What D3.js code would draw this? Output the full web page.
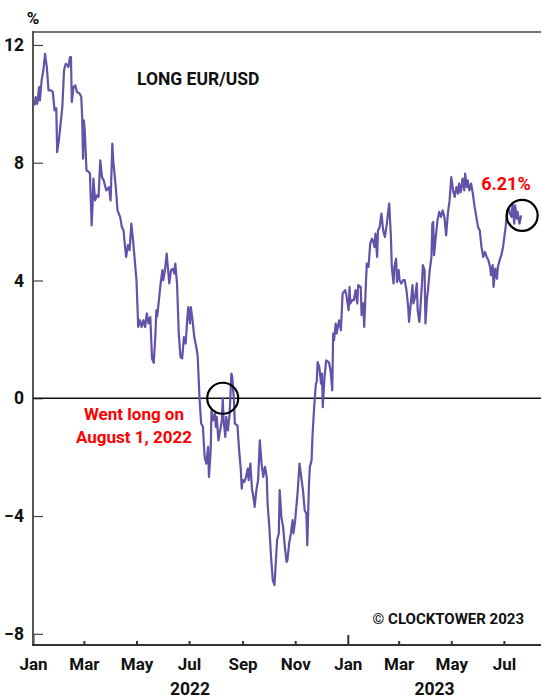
<!DOCTYPE html>
<html>
<head>
<meta charset="utf-8">
<script src="https://cdn.jsdelivr.net/npm/d3@7"></script>
<style>
  html, body { margin: 0; padding: 0; background: #fff; }
  svg { display: block; font-family: Roboto, "Noto Sans", sans-serif; font-weight: 700; }
</style>
</head>
<body>
<svg id="chart" width="542" height="698"></svg>
<script>
// Long EUR/USD position, % — 2022 observations (MM-DD) and values
const days2022 = ["01-03","01-04","01-06","01-08","01-09","01-10","01-11","01-13","01-15","01-17","01-19","01-22","01-24","01-26","01-28","01-29","01-31",
  "02-02","02-04","02-06","02-08","02-10","02-11","02-13","02-14","02-15","02-17","02-19","02-21","02-24","02-26","02-27","02-28",
  "03-01","03-02","03-04","03-07","03-08","03-10","03-11","03-12","03-14","03-16","03-18","03-20","03-22","03-24","03-26","03-27","03-30",
  "04-01","04-03","04-04","04-07","04-09","04-12","04-14","04-16","04-17","04-19","04-21","04-23","04-25","04-27","04-29",
  "05-01","05-03","05-05","05-07","05-09","05-11","05-13","05-15","05-17","05-19","05-21","05-23","05-24","05-25","05-27","05-29","05-31",
  "06-01","06-03","06-05","06-07","06-08","06-10","06-12","06-14","06-15","06-17","06-19","06-21","06-23","06-25","06-27","06-29","06-30",
  "07-02","07-03","07-05","07-07","07-10","07-11","07-12","07-13","07-15","07-17","07-19","07-21","07-23","07-24","07-26","07-27","07-29","07-31",
  "08-01","08-02","08-04","08-06","08-08","08-09","08-10","08-12","08-13","08-15","08-17","08-19","08-20","08-22","08-23","08-26","08-28","08-30","08-31",
  "09-01","09-03","09-05","09-07","09-08","09-10","09-12","09-13","09-15","09-17","09-19","09-21","09-23","09-25","09-27","09-29","09-30",
  "10-02","10-04","10-06","10-08","10-09","10-11","10-13","10-14","10-16","10-18","10-20","10-22","10-23","10-25","10-27","10-29","10-30",
  "11-01","11-02","11-04","11-06","11-08","11-10","11-12","11-14","11-15","11-17","11-18","11-20","11-21","11-23","11-25","11-26","11-27","11-29",
  "12-01","12-02","12-03","12-05","12-07","12-10","12-12","12-14","12-15","12-16","12-18","12-19","12-22","12-24","12-26","12-29","12-30"];
const values2022 = [9.95,10.23,10.00,10.57,10.12,10.46,10.80,11.14,11.70,11.25,10.46,10.46,10.40,9.78,9.85,8.36,8.76,
  9.33,9.89,11.14,11.36,11.31,11.25,11.59,11.59,10.06,10.57,10.63,10.40,10.35,10.23,9.55,8.14,
  9.44,9.10,7.74,7.68,7.63,5.87,6.50,7.46,6.72,6.89,6.84,8.08,7.51,7.40,7.17,7.06,7.17,
  6.72,8.65,8.08,7.17,6.38,6.16,5.82,5.70,5.36,4.80,5.20,5.03,5.93,5.36,4.69,
  4.00,2.42,2.65,2.42,2.65,2.42,2.88,2.54,2.76,1.35,1.20,2.20,2.99,2.78,3.33,3.90,4.35,
  4.01,4.35,4.91,4.23,3.90,4.35,4.40,4.23,4.57,3.90,2.20,1.40,1.35,2.08,1.86,2.76,3.10,
  2.54,3.10,2.65,2.08,1.63,1.40,0.72,0.04,-0.86,-0.97,-1.99,-2.22,-1.65,-2.67,-1.77,-0.41,-0.75,-0.52,
  -0.97,-0.63,-1.43,-1.09,-0.75,-0.01,-0.75,-1.31,-0.63,-1.09,-0.52,0.84,0.72,-0.07,-0.86,-0.92,-1.77,-2.44,-3.07,
  -2.78,-2.84,-2.67,-2.39,-2.78,-2.22,-3.12,-3.24,-3.69,-3.12,-2.78,-1.43,-2.22,-2.67,-2.33,-2.67,-3.58,
  -4.37,-5.39,-6.18,-6.35,-5.84,-4.82,-4.59,-3.12,-4.03,-4.37,-5.05,-5.56,-5.50,-4.93,-4.59,-4.14,-4.59,
  -4.14,-3.80,-3.12,-2.22,-2.67,-3.12,-3.80,-3.92,-4.99,-2.90,-2.33,-2.11,-1.31,-0.30,0.50,0.55,1.23,1.06,
  0.50,0.84,-0.30,0.72,1.29,1.23,0.95,0.27,2.20,1.97,2.54,2.20,2.65,2.31,3.56,3.67,3.56];

// 2023 observations (MM-DD) and values
const days2023 = ["01-02","01-03","01-04","01-06","01-08","01-10","01-12","01-13","01-16","01-17","01-19","01-20","01-22","01-23","01-25","01-27","01-29","01-30",
  "02-01","02-02","02-04","02-05","02-07","02-09","02-11","02-13","02-15","02-17","02-18","02-20","02-21","02-23","02-24","02-26","02-27",
  "03-01","03-02","03-04","03-06","03-08","03-10","03-12","03-13","03-15","03-17","03-18","03-20","03-22","03-23","03-25","03-26","03-28","03-29","03-31",
  "04-01","04-03","04-04","04-06","04-08","04-09","04-10","04-11","04-13","04-15","04-17","04-19","04-21","04-23","04-25","04-27","04-29",
  "05-01","05-03","05-05","05-07","05-09","05-10","05-12","05-14","05-16","05-17","05-19","05-20","05-22","05-24","05-26","05-28","05-30",
  "06-01","06-03","06-05","06-07","06-09","06-11","06-13","06-15","06-16","06-18","06-19","06-21","06-23","06-24","06-26","06-28","06-30",
  "07-03","07-05","07-07","07-08","07-10","07-11","07-13","07-14","07-16","07-17","07-19","07-21"];
const values2023 = [2.99,3.78,3.22,3.33,3.33,3.67,3.22,3.84,3.78,2.82,3.22,2.42,3.90,4.57,4.46,5.25,5.42,5.37,
  5.14,5.59,4.80,5.70,5.82,6.27,5.70,5.48,5.87,6.38,6.61,5.48,4.46,3.90,4.46,4.74,3.95,
  4.35,4.01,3.90,4.01,4.01,3.67,3.10,2.59,3.22,3.84,3.22,3.44,3.90,2.99,2.59,2.99,3.90,4.52,4.35,
  2.54,3.44,3.67,4.35,4.80,5.93,5.99,4.86,5.48,6.04,6.33,6.16,6.38,6.16,5.53,6.27,6.72,
  7.51,7.06,6.84,7.17,6.95,7.29,7.00,7.46,7.06,7.63,7.17,7.40,7.06,7.29,6.95,6.50,6.16,
  5.82,5.70,5.14,4.80,4.97,4.80,4.69,4.46,4.18,4.52,3.78,4.40,4.06,4.46,4.69,4.86,5.14,
  5.82,6.38,6.44,6.27,6.16,6.61,5.93,6.55,6.10,6.33,5.93,6.21];

// Axis ticks and labels
const yTicks = [-8, -4, 0, 4, 8, 12];
const monthTicks = ["2022-01-01","2022-03-01","2022-05-01","2022-07-01","2022-09-01","2022-11-01",
                    "2023-01-01","2023-03-01","2023-05-01","2023-07-01"];
const yearLabels = [{ label: "2022", from: "2022-01-01", to: "2022-12-31" },
                    { label: "2023", from: "2023-01-01", to: "2023-07-21" }];
const longEntryDate = "2022-08-09";   // marked entry point on the zero line

const parse = d3.timeParse("%Y-%m-%d");
const series = [
  ...days2022.map((d, i) => ({ date: parse("2022-" + d), value: values2022[i] })),
  ...days2023.map((d, i) => ({ date: parse("2023-" + d), value: values2023[i] }))
];
const last = series[series.length - 1];

const plot = { left: 33, right: 541, top: 32, bottom: 645 };
const svg = d3.select("#chart");

const x = d3.scaleTime()
  .domain([parse("2022-01-01"), parse("2023-08-13")])
  .range([plot.left, plot.right]);
const y = d3.scaleLinear()
  .domain([-8.38, 12.44])
  .range([plot.bottom, plot.top]);

// Top rule
svg.append("line").attr("x1", plot.left).attr("x2", plot.right).attr("y1", plot.top).attr("y2", plot.top)
  .attr("stroke", "#777").attr("stroke-width", 2);

// Y axis
const yAxis = svg.append("g")
  .attr("transform", `translate(${plot.left},0)`)
  .call(d3.axisLeft(y).tickValues(yTicks).tickSize(-10).tickPadding(9).tickFormat(d3.format("d")));
yAxis.select(".domain").remove();
yAxis.selectAll(".tick line").attr("stroke", "#444").attr("stroke-width", 1.2);
yAxis.selectAll(".tick text").attr("fill", "#111").attr("font-size", 17.5).attr("font-weight", 700)
  .attr("font-family", "Roboto, sans-serif");

// X axis
const xAxis = svg.append("g")
  .attr("transform", `translate(0,${plot.bottom})`)
  .call(d3.axisBottom(x).tickValues(monthTicks.map(parse)).tickSize(-4).tickPadding(13)
    .tickFormat(d3.timeFormat("%b")));
xAxis.select(".domain").remove();
xAxis.selectAll(".tick line").attr("stroke", "#333").attr("stroke-width", 2)
  .attr("y2", d => d.getMonth() === 0 ? -10 : -4);
xAxis.selectAll(".tick text").attr("fill", "#111").attr("font-size", 17).attr("font-weight", 700)
  .attr("font-family", "Roboto, sans-serif");

// Left and bottom axis lines
svg.append("line").attr("x1", plot.left).attr("x2", plot.left).attr("y1", plot.top - 1).attr("y2", plot.bottom + 1)
  .attr("stroke", "#555").attr("stroke-width", 2);
svg.append("line").attr("x1", plot.left - 1).attr("x2", plot.right).attr("y1", plot.bottom).attr("y2", plot.bottom)
  .attr("stroke", "#333").attr("stroke-width", 2);

// Year labels centred under each year's span
svg.selectAll("text.year").data(yearLabels).join("text")
  .attr("class", "year")
  .attr("x", d => (x(parse(d.from)) + x(parse(d.to))) / 2)
  .attr("y", 695)
  .attr("text-anchor", "middle")
  .attr("font-size", 17.5).attr("fill", "#111")
  .text(d => d.label);

// Unit label
svg.append("text").attr("x", plot.left).attr("y", 24).attr("text-anchor", "middle")
  .attr("font-size", 17).attr("fill", "#111").text("%");

// Zero line
svg.append("line").attr("x1", plot.left).attr("x2", plot.right).attr("y1", y(0)).attr("y2", y(0))
  .attr("stroke", "#111").attr("stroke-width", 1.5);

// Position line
const line = d3.line().x(d => x(d.date)).y(d => y(d.value));
svg.append("path").datum(series)
  .attr("fill", "none")
  .attr("stroke", "#6451a8")
  .attr("stroke-width", 2.2)
  .attr("stroke-linejoin", "round")
  .attr("d", line);

// Entry and latest-value markers
svg.append("circle").attr("cx", x(parse(longEntryDate))).attr("cy", y(0)).attr("r", 15.5)
  .attr("fill", "none").attr("stroke", "#000").attr("stroke-width", 2.2);
svg.append("circle").attr("cx", x(last.date) + 1).attr("cy", y(last.value)).attr("r", 15.5)
  .attr("fill", "none").attr("stroke", "#000").attr("stroke-width", 2.2);

// Annotations
svg.append("text").attr("x", 137).attr("y", 85).attr("font-size", 17.5).attr("fill", "#111")
  .text("LONG EUR/USD");

svg.append("text").attr("x", 506).attr("y", 190).attr("text-anchor", "middle")
  .attr("font-size", 18).attr("fill", "#ff0000")
  .text(d3.format(".2f")(last.value) + "%");

const note = svg.append("text").attr("text-anchor", "middle").attr("font-size", 17).attr("fill", "#ff0000");
note.append("tspan").attr("x", 134).attr("y", 420).text("Went long on");
note.append("tspan").attr("x", 134).attr("y", 443).text("August 1, 2022");

svg.append("text").attr("x", 524).attr("y", 624).attr("text-anchor", "end")
  .attr("font-size", 15).attr("fill", "#111").text("© CLOCKTOWER 2023");
</script>
</body>
</html>
